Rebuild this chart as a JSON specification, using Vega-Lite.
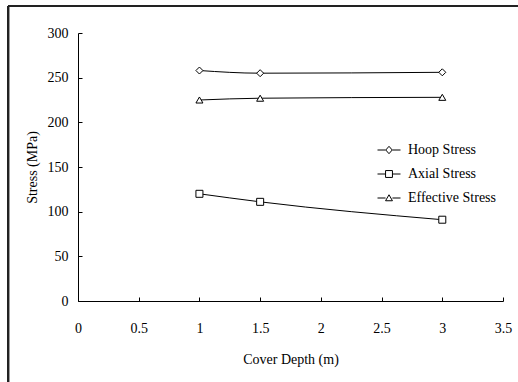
{
  "$schema": "https://vega.github.io/schema/vega-lite/v6.json",
  "width": 425,
  "height": 268,
  "autosize": {"type": "none"},
  "padding": {"left": 78, "top": 33, "right": 15, "bottom": 81},
  "background": "white",
  "config": {
    "view": {"stroke": null},
    "font": "Liberation Serif",
    "axis": {
      "grid": false,
      "domainColor": "black",
      "domainWidth": 1,
      "tickColor": "black",
      "tickWidth": 1,
      "tickSize": -4,
      "labelColor": "black",
      "labelFont": "Liberation Serif",
      "labelFontSize": 14,
      "titleFont": "Liberation Serif",
      "titleFontSize": 14,
      "titleFontWeight": "normal",
      "titleColor": "black"
    },
    "legend": {
      "labelFont": "Liberation Serif",
      "labelFontSize": 14,
      "labelColor": "black"
    }
  },
  "data": {
    "values": [
      {"depth": 1, "stress": 258, "series": "Hoop Stress"},
      {"depth": 1.5, "stress": 255, "series": "Hoop Stress"},
      {"depth": 3, "stress": 256, "series": "Hoop Stress"},
      {"depth": 1, "stress": 120, "series": "Axial Stress"},
      {"depth": 1.5, "stress": 111, "series": "Axial Stress"},
      {"depth": 3, "stress": 91, "series": "Axial Stress"},
      {"depth": 1, "stress": 225, "series": "Effective Stress"},
      {"depth": 1.5, "stress": 227, "series": "Effective Stress"},
      {"depth": 3, "stress": 228, "series": "Effective Stress"}
    ]
  },
  "encoding": {
    "x": {
      "field": "depth",
      "type": "quantitative",
      "title": "Cover Depth (m)",
      "scale": {"domain": [0, 3.5], "nice": false, "zero": false},
      "axis": {"values": [0, 0.5, 1, 1.5, 2, 2.5, 3, 3.5], "format": "~g", "labelPadding": 24, "titlePadding": 17, "labelFlush": false}
    },
    "y": {
      "field": "stress",
      "type": "quantitative",
      "title": "Stress (MPa)",
      "scale": {"domain": [0, 300], "nice": false, "zero": false},
      "axis": {"values": [0, 50, 100, 150, 200, 250, 300], "labelPadding": 14, "titlePadding": 8, "labelFlush": false}
    }
  },
  "layer": [
    {
      "mark": {"type": "rule", "color": "#222", "strokeWidth": 2, "clip": false},
      "encoding": {
        "x": {"datum": -0.576, "type": "quantitative"},
        "y": {"datum": 330.2, "type": "quantitative"},
        "y2": {"datum": -300}
      }
    },
    {
      "mark": {"type": "rule", "color": "#222", "strokeWidth": 2, "clip": false},
      "encoding": {
        "x": {"datum": -0.576, "type": "quantitative"},
        "x2": {"datum": 6},
        "y": {"datum": 330.2, "type": "quantitative"}
      }
    },
    {
      "mark": {"type": "line", "interpolate": "monotone", "color": "black", "strokeWidth": 1},
      "encoding": {
        "detail": {"field": "series", "type": "nominal"}
      }
    },
    {
      "mark": {"type": "point", "filled": true, "fill": "white", "stroke": "black", "strokeWidth": 1, "size": 49, "opacity": 1},
      "encoding": {
        "shape": {
          "field": "series",
          "type": "nominal",
          "scale": {"domain": ["Hoop Stress", "Axial Stress", "Effective Stress"], "range": ["diamond", "square", "triangle-up"]},
          "legend": null
        }
      }
    },
    {
      "transform": [{"filter": "datum.depth > 100"}],
      "mark": {"type": "point", "filled": false, "color": "black", "strokeWidth": 1, "opacity": 1},
      "encoding": {
        "shape": {
          "field": "series",
          "type": "nominal",
          "scale": {"domain": ["Hoop Stress", "Axial Stress", "Effective Stress"], "range": ["M-1,0H-0.3M0.3,0H1M-0.28,0L0,-0.32L0.28,0L0,0.32Z", "M-1,0H-0.3M0.3,0H1M-0.3,-0.3H0.3V0.3H-0.3Z", "M-1,0H-0.3M0.3,0H1M0,-0.28L0.3,0.24H-0.3Z"]},
          "legend": {
            "title": null,
            "orient": "none",
            "legendX": 299,
            "legendY": 105,
            "padding": 0,
            "symbolSize": 529,
            "symbolStrokeWidth": 1,
            "symbolStrokeColor": "black",
            "symbolFillColor": "white",
            "labelOffset": 7,
            "rowPadding": 5
          }
        }
      }
    }
  ],
  "resolve": {"scale": {"shape": "independent"}, "legend": {"shape": "independent"}}
}
